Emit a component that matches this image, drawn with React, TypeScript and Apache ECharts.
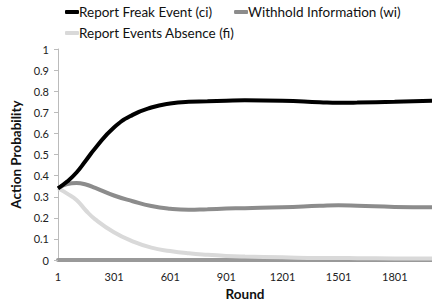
import React, { useEffect, useRef } from "react";
import * as echarts from "echarts";

const rounds = [1, 50, 100, 150, 200, 300, 400, 500, 600, 700, 800, 900, 1000, 1200, 1400, 1500, 1600, 1800, 2000];
const reportFreak = [0.34, 0.372, 0.415, 0.472, 0.53, 0.628, 0.688, 0.723, 0.742, 0.75, 0.752, 0.755, 0.757, 0.755, 0.748, 0.745, 0.746, 0.75, 0.755];
const withhold = [0.34, 0.36, 0.365, 0.358, 0.342, 0.306, 0.279, 0.256, 0.243, 0.238, 0.241, 0.244, 0.246, 0.25, 0.257, 0.26, 0.258, 0.252, 0.25];
const reportAbsence = [0.34, 0.315, 0.285, 0.235, 0.193, 0.132, 0.089, 0.059, 0.043, 0.032, 0.025, 0.02, 0.017, 0.013, 0.01, 0.01, 0.009, 0.008, 0.007];
const xTicks = [1, 301, 601, 901, 1201, 1501, 1801];
const seriesNames = ["Report Freak Event (ci)", "Withhold Information (wi)", "Report Events Absence (fi)"];

const FONT = "Lato";

export default function App() {
  const ref = useRef<HTMLDivElement>(null);
  useEffect(() => {
    if (!ref.current) return;
    const chart = echarts.init(ref.current, undefined, { renderer: "svg" });
    const pair = (ys: number[]) => rounds.map((r, i) => [r, ys[i]]);
    const legendText = { fontFamily: FONT, fontSize: 13.5, color: "#111", padding: [0, 0, 0, -5] };
    chart.setOption({
      animation: false,
      textStyle: { fontFamily: FONT },
      legend: [
        {
          data: [seriesNames[0], seriesNames[1]],
          left: 60,
          top: 0,
          itemWidth: 14,
          itemHeight: 4,
          itemGap: 22,
          icon: "roundRect",
          textStyle: legendText,
        },
        {
          data: [seriesNames[2]],
          left: 60,
          top: 21,
          itemWidth: 14,
          itemHeight: 4,
          icon: "roundRect",
          textStyle: legendText,
        },
      ],
      grid: { left: 58, right: -2, top: 49, bottom: 41, containLabel: false },
      xAxis: {
        type: "value",
        min: 1,
        max: 2000,
        name: "Round",
        nameLocation: "middle",
        nameGap: 25,
        nameTextStyle: { fontFamily: FONT, fontWeight: "bold", fontSize: 13.5, color: "#111" },
        axisLine: { show: true, lineStyle: { color: "#999", width: 4 } },
        axisTick: { show: false },
        axisLabel: {
          customValues: xTicks,
          formatter: (v: number) => String(v),
          fontSize: 11,
          color: "#222",
          fontFamily: FONT,
          margin: 11,
        },
        splitLine: { show: false },
      },
      yAxis: {
        type: "value",
        min: 0,
        max: 1,
        interval: 0.1,
        name: "Action Probability",
        nameLocation: "middle",
        nameGap: 31,
        nameTextStyle: { fontFamily: FONT, fontWeight: "bold", fontSize: 13.5, color: "#111" },
        axisLine: { show: true, lineStyle: { color: "#bbb", width: 1 } },
        axisTick: { show: true, length: 4, lineStyle: { color: "#bbb" } },
        axisLabel: { fontSize: 11, color: "#222", fontFamily: FONT, margin: 9 },
        splitLine: { show: false },
      },
      series: [
        {
          name: seriesNames[2],
          type: "line",
          data: pair(reportAbsence),
          smooth: true,
          showSymbol: false,
          color: "#d9d9d9",
          lineStyle: { width: 4, color: "#d9d9d9" },
        },
        {
          name: seriesNames[1],
          type: "line",
          data: pair(withhold),
          smooth: true,
          showSymbol: false,
          color: "#8c8c8c",
          lineStyle: { width: 4, color: "#8c8c8c" },
        },
        {
          name: seriesNames[0],
          type: "line",
          data: pair(reportFreak),
          smooth: true,
          showSymbol: false,
          color: "#000",
          lineStyle: { width: 4, color: "#000" },
        },
      ],
    });
    return () => chart.dispose();
  }, []);
  return <div ref={ref} style={{ width: 432, height: 306, position: "absolute", left: 0, top: 0 }} />;
}
